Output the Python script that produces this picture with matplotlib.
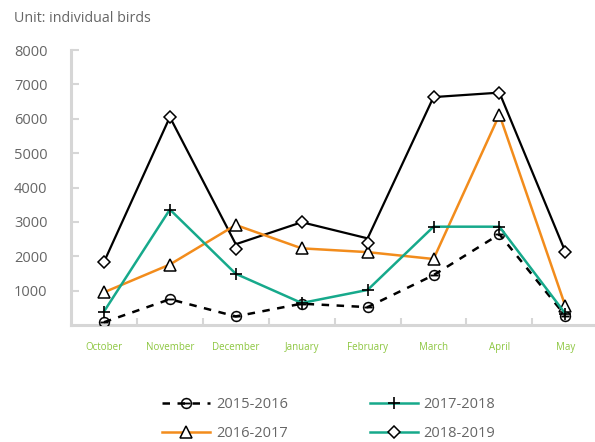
import matplotlib.pyplot as plt
from matplotlib.lines import Line2D

plt.rcParams['font.family'] = ['Open Sans', 'DejaVu Sans']

months = ["October", "November", "December", "January", "February", "March", "April", "May"]
s2015 = [80, 750, 250, 620, 520, 1450, 2640, 270]
s2016 = [950, 1760, 2910, 2230, 2120, 1920, 6120, 550]
s2017 = [390, 3360, 1490, 640, 1020, 2860, 2860, 330]
s2018_line = [1830, 6050, 2350, 2990, 2520, 6630, 6760, 2130]
s2018_mark = [1830, 6050, 2200, 2990, 2400, 6630, 6760, 2130]
yticks = [1000, 2000, 3000, 4000, 5000, 6000, 7000, 8000]

orange = "#f28c1c"
teal = "#16a98b"
gray = "#666666"
axis_gray = "#d6d6d6"

fig = plt.figure(figsize=(5.95, 4.42), dpi=100)
ax = fig.add_axes([71 / 595, 1 - 325 / 442, 1 - 71 / 595, (325 - 50) / 442])
x = list(range(len(months)))

mk = dict(markerfacecolor="white", markeredgecolor="black", markeredgewidth=1.1)
circ = dict(marker=r"$\ominus$", ms=8, markeredgewidth=0.2, markerfacecolor="black",
            markeredgecolor="black")
ax.plot(x, s2015, color="black", ls=(0, (3, 3)), lw=1.8, zorder=3, **circ)
ax.plot(x, s2016, color=orange, lw=1.8, marker="^", ms=8, zorder=3, **mk)
ax.plot(x, s2017, color=teal, lw=1.8, marker="+", ms=9, zorder=4,
        markeredgecolor="black", markeredgewidth=1.2)
ax.plot(x, s2018_line, color="black", lw=1.6, zorder=2)
ax.plot(x, s2018_mark, ls="none", marker="D", ms=6, zorder=4, **mk)

ax.set_xlim(-0.5, 7.45)
ax.set_ylim(0, 8000)
ax.set_yticks(yticks)
ax.set_yticklabels([str(v) for v in yticks], color=gray, fontsize=10.5)
ax.set_xticks([i + 0.5 for i in range(7)], minor=False)
ax.set_xticklabels([])
ax.set_xticks(x, minor=True)
ax.set_xticklabels(months, minor=True, color="#8cc63f", fontsize=7)
ax.tick_params(axis="x", which="minor", length=0, pad=12)
ax.tick_params(axis="x", which="major", direction="in", length=5, width=1.5, color=axis_gray)
ax.tick_params(axis="y", direction="in", length=6, width=1.5, color=axis_gray, pad=17)
for side in ["top", "right"]:
    ax.spines[side].set_visible(False)
for side in ["left", "bottom"]:
    ax.spines[side].set_color(axis_gray)
    ax.spines[side].set_linewidth(2.2)

fig.text(14 / 595, 1 - 19 / 442, "Unit: individual birds", color=gray, fontsize=10.3, va="center")

handles = [
    Line2D([], [], color="black", ls=(0, (3, 3)), lw=1.8, **circ),
    Line2D([], [], color=orange, lw=1.8, marker="^", ms=8, **mk),
    Line2D([], [], color=teal, lw=1.8, marker="+", ms=9, markeredgecolor="black", markeredgewidth=1.2),
    Line2D([], [], color=teal, lw=1.8, marker="D", ms=6, **mk),
]
labels = ["2015-2016", "2016-2017", "2017-2018", "2018-2019"]
leg = fig.legend(handles, labels, ncol=2, loc="upper left", bbox_to_anchor=(155 / 595, 1 - 390 / 442),
                 frameon=False, fontsize=10.5, handlelength=3.3, columnspacing=5.6,
                 labelspacing=0.95, borderpad=0, handletextpad=0.4)
for t in leg.get_texts():
    t.set_color(gray)

fig.savefig("out.png", dpi=100)
